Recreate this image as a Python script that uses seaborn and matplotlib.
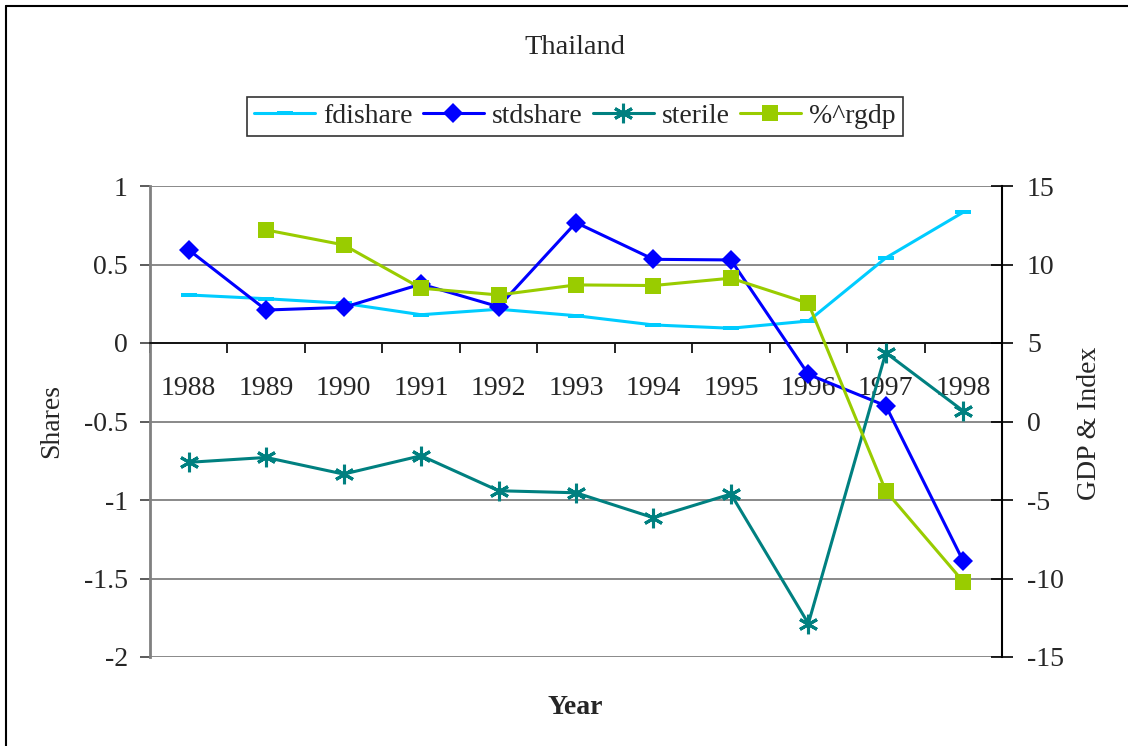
import numpy as np
import pandas as pd
import matplotlib
matplotlib.use("Agg")
import matplotlib.pyplot as plt
import seaborn as sns
from matplotlib.lines import Line2D

# data
years = [1988, 1989, 1990, 1991, 1992, 1993, 1994, 1995, 1996, 1997, 1998]
fdishare = [0.306, 0.282, 0.253, 0.180, 0.215, 0.174, 0.115, 0.094, 0.140, 0.542, 0.833]
stdshare = [0.593, 0.210, 0.227, 0.375, 0.231, 0.767, 0.533, 0.529, -0.20, -0.40, -1.39]
sterile = [-2.60, -2.29, -3.35, -2.18, -4.41, -4.54, -6.13, -4.62, -12.87, 4.38, 0.67]
rgdp = [np.nan, 12.2, 11.25, 8.49, 8.06, 8.70, 8.66, 9.13, 7.53, -4.43, -10.2]

CYAN = "#00CCFF"
BLUE = "#0000FF"
TEAL = "#008080"
LIME = "#99CC00"

df = pd.DataFrame({"year": years, "fdishare": fdishare, "stdshare": stdshare,
                   "sterile": sterile, "rgdp": rgdp})

sns.set_theme(style="white")
plt.rcParams["font.family"] = ["Liberation Serif", "DejaVu Serif"]
plt.rcParams["font.size"] = 20

fig = plt.figure(figsize=(11.28, 7.46), dpi=100)
ax = fig.add_axes([150 / 1128, 1 - 657 / 746, 852 / 1128, 471 / 746])
ax2 = ax.twinx()

dash = [(-1, -0.3), (1, -0.3), (1, 0.3), (-1, 0.3)]
sns.lineplot(data=df, x="year", y="fdishare", ax=ax, color=CYAN, lw=2.2,
             marker=dash, markersize=11, markeredgewidth=0, zorder=3)
sns.lineplot(data=df, x="year", y="stdshare", ax=ax, color=BLUE, lw=2.2,
             marker="D", markersize=10, markeredgewidth=0, zorder=4)
sns.lineplot(data=df, x="year", y="sterile", ax=ax2, color=TEAL, lw=2.2,
             marker=(6, 2, 0), markersize=14, markeredgewidth=2.2, markeredgecolor=TEAL, zorder=3)
sns.lineplot(data=df.dropna(), x="year", y="rgdp", ax=ax2, color=LIME, lw=2.2,
             marker="s", markersize=11.5, markeredgewidth=0, zorder=4)

# left axis
ax.set_xlim(1987.5, 1998.5)
ax.set_ylim(-2, 1)
ax.set_yticks([1, 0.5, 0, -0.5, -1, -1.5, -2])
ax.set_yticklabels(["1", "0.5", "0", "-0.5", "-1", "-1.5", "-2"])
ax.yaxis.grid(True, color="#808080", lw=1.3)
ax.set_axisbelow(True)
ax.spines["top"].set_visible(False)
ax.spines["right"].set_visible(False)
ax.spines["left"].set_color("#808080")
ax.spines["left"].set_linewidth(2)
ax.spines["bottom"].set_position(("data", 0))
ax.spines["bottom"].set_color("black")
ax.spines["bottom"].set_linewidth(1.2)
ax.tick_params(axis="y", direction="out", length=7, width=1.2, color="#404040",
               pad=9, labelsize=20, left=True)
ax.set_xticks(years)
ax.set_xticklabels([str(y) for y in years])
ax.set_xticks([y + 0.5 for y in [1987] + years[:-1]], minor=True)
ax.tick_params(axis="x", which="major", length=0, pad=24, labelsize=20, bottom=True)
ax.tick_params(axis="x", which="minor", length=7, width=1.2, direction="out",
               color="black", bottom=True)
ax.set_xlabel("")
ax.set_ylabel("")

# right axis
ax2.set_ylim(-15, 15)
ax2.set_yticks([15, 10, 5, 0, -5, -10, -15])
ax2.set_yticklabels(["15", "10", "5", "0", "-5", "-10", "-15"])
for s in ["top", "left", "bottom"]:
    ax2.spines[s].set_visible(False)
ax2.spines["right"].set_color("black")
ax2.spines["right"].set_linewidth(1.5)
ax2.tick_params(axis="y", direction="inout", length=16, width=1.2, color="black",
                pad=10, labelsize=20, right=True)
ax2.set_ylabel("")
ax2.grid(False)

fig.text(575 / 1128, 1 - 47 / 746, "Thailand", ha="center", va="center", fontsize=20.5)
fig.text(575 / 1128, 1 - 707 / 746, "Year", ha="center", va="center", fontsize=20,
         fontweight="bold")
fig.text(52 / 1128, 1 - 421 / 746, "Shares", ha="center", va="center", fontsize=20,
         rotation=90)
fig.text(1090 / 1128, 1 - 423 / 746, "GDP & Index", ha="center", va="center",
         fontsize=20, rotation=90)

handles = [
    Line2D([], [], color=CYAN, lw=2.2, marker=dash, markersize=11, markeredgewidth=0),
    Line2D([], [], color=BLUE, lw=2.2, marker="D", markersize=10, markeredgewidth=0),
    Line2D([], [], color=TEAL, lw=2.2, marker=(6, 2, 0), markersize=14, markeredgewidth=2.2),
    Line2D([], [], color=LIME, lw=2.2, marker="s", markersize=11.5, markeredgewidth=0),
]
leg = fig.legend(handles, ["fdishare", "stdshare", "sterile", "%^rgdp"], ncol=4,
                 loc="center", bbox_to_anchor=(575 / 1128, 1 - 116.5 / 746),
                 frameon=True, fancybox=False, fontsize=20, handlelength=2.2,
                 handletextpad=0.3, columnspacing=0.35, borderpad=0.25,
                 borderaxespad=0.2)
leg.get_frame().set_edgecolor("black")
leg.get_frame().set_linewidth(1.2)

# outer chart border
fig.add_artist(Line2D([6 / 1128, 6 / 1128], [0, 1 - 6 / 746], color="black", lw=1.5,
                      transform=fig.transFigure))
fig.add_artist(Line2D([6 / 1128, 1], [1 - 6 / 746, 1 - 6 / 746], color="black", lw=1.5,
                      transform=fig.transFigure))

fig.savefig("out.png", dpi=100)
